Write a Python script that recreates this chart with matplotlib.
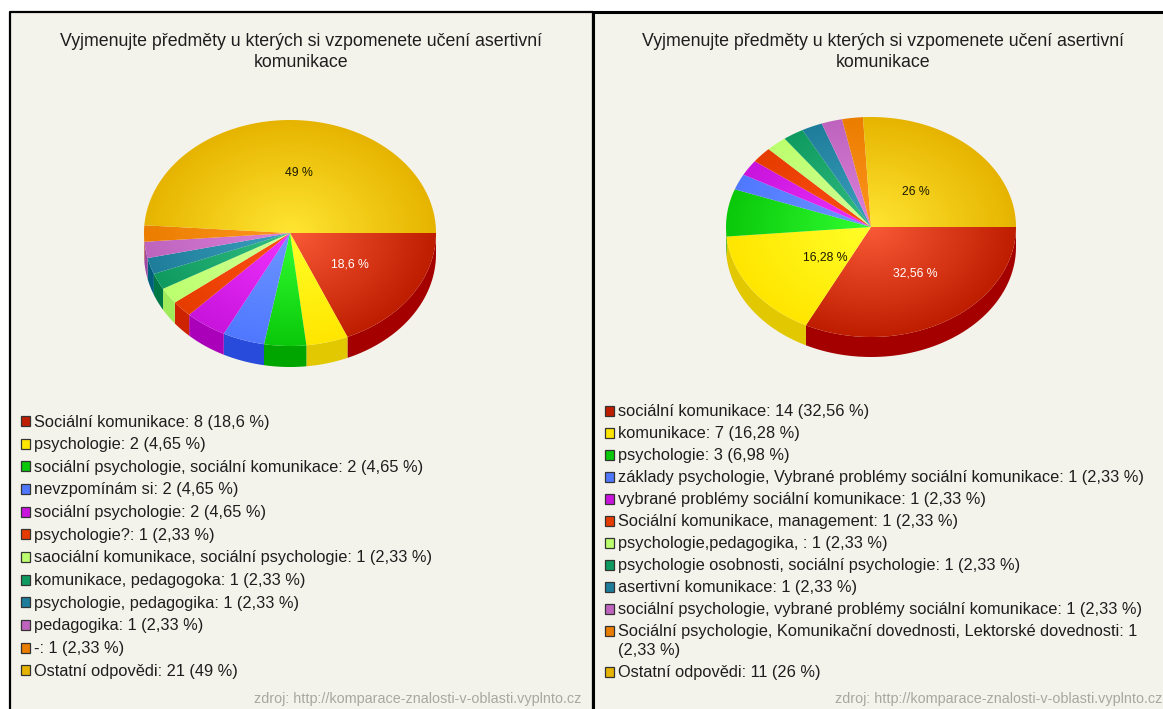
import numpy as np
import matplotlib
matplotlib.use("Agg")
import matplotlib.pyplot as plt
from matplotlib.patches import Polygon, Rectangle

plt.rcParams['font.family'] = ['Liberation Sans', 'DejaVu Sans']

TITLE = "Vyjmenujte předměty u kterých si vzpomenete učení asertivní\nkomunikace"
SOURCE = "zdroj: http://komparace-znalosti-v-oblasti.vyplnto.cz"

left_labels = ["Sociální komunikace", "psychologie", "sociální psychologie, sociální komunikace",
               "nevzpomínám si", "sociální psychologie", "psychologie?",
               "saociální komunikace, sociální psychologie", "komunikace, pedagogoka",
               "psychologie, pedagogika", "pedagogika", "-", "Ostatní odpovědi"]
left_counts = [8, 2, 2, 2, 2, 1, 1, 1, 1, 1, 1, 21]
left_pcts = ["18,6", "4,65", "4,65", "4,65", "4,65", "2,33", "2,33", "2,33", "2,33", "2,33", "2,33", "49"]

right_labels = ["sociální komunikace", "komunikace", "psychologie",
                "základy psychologie, Vybrané problémy sociální komunikace",
                "vybrané problémy sociální komunikace", "Sociální komunikace, management",
                "psychologie,pedagogika, ", "psychologie osobnosti, sociální psychologie",
                "asertivní komunikace", "sociální psychologie, vybrané problémy sociální komunikace",
                "Sociální psychologie, Komunikační dovednosti, Lektorské dovednosti", "Ostatní odpovědi"]
right_counts = [14, 7, 3, 1, 1, 1, 1, 1, 1, 1, 1, 11]
right_pcts = ["32,56", "16,28", "6,98", "2,33", "2,33", "2,33", "2,33", "2,33", "2,33", "2,33", "2,33", "26"]

rim = ['#bf1d00', '#ffe600', '#0ac80a', '#4f78ff', '#c814dc', '#e63c00', '#bcff6e',
       '#0f9b5f', '#1e7d9b', '#be64be', '#eb7d00', '#e6b400']
hub = ['#fa5a37', '#ffff28', '#32ff32', '#6e96ff', '#f032ff', '#ff5014', '#d2ff96',
       '#32be82', '#3ca0be', '#dc82dc', '#ff9620', '#ffe632']
side = ['#a50000', '#e1c800', '#00a500', '#284bdc', '#aa00b9', '#cd2300', '#a0eb5a',
        '#007846', '#005f7d', '#a046a5', '#d26400', '#c89600']

W, H = 1163, 709
BG = '#f4f3eb'
fig = plt.figure(figsize=(W / 100, H / 100), dpi=100, facecolor='white')
ax = fig.add_axes([0, 0, 1, 1])
ax.set_xlim(0, W)
ax.set_ylim(H, 0)
ax.axis('off')


def hex2rgb(c):
    return np.array(matplotlib.colors.to_rgb(c))


def draw_pie(cx, cy, rx, ry, depth, pcts, nudges, show):
    vals = np.array([float(p.replace(',', '.')) for p in pcts])
    edges = np.concatenate([[0], np.cumsum(vals) / vals.sum() * 2 * np.pi])
    # side wall, visible on the front half only
    for i in range(len(vals)):
        a0, a1 = edges[i], min(edges[i + 1], np.pi)
        if a0 >= np.pi:
            continue
        t = np.linspace(a0, a1, 80)
        x, y = cx + rx * np.cos(t), cy + ry * np.sin(t)
        pts = np.r_[np.c_[x, y], np.c_[x[::-1], y[::-1] + depth]]
        ax.add_patch(Polygon(pts, closed=True, fc=side[i], ec='none', zorder=3))
    # top face with a radial shade in each slice
    n = 400
    gx, gy = np.meshgrid(np.linspace(-1, 1, n), np.linspace(-1, 1, n))
    r = np.clip(np.hypot(gx, gy), 0, 1)[..., None]
    for i in range(len(vals)):
        t = np.linspace(edges[i], edges[i + 1], 120)
        pts = np.r_[[[cx, cy]], np.c_[cx + rx * np.cos(t), cy + ry * np.sin(t)]]
        poly = Polygon(pts, closed=True, fc='none', ec='none', transform=ax.transData)
        ax.add_patch(poly)
        img = hex2rgb(hub[i]) * (1 - r) + hex2rgb(rim[i]) * r
        im = ax.imshow(img, extent=(cx - rx, cx + rx, cy + ry, cy - ry), aspect='auto',
                       interpolation='bilinear', zorder=4)
        im.set_clip_path(poly)
        if i in show:
            mid = (edges[i] + edges[i + 1]) / 2
            dx, dy = nudges[show.index(i)]
            col = 'white' if i == 0 else '#1a1a00'
            ax.text(cx + 0.5 * rx * np.cos(mid) + dx, cy + 0.5 * ry * np.sin(mid) + dy,
                    f"{pcts[i]} %", ha='center', va='center', fontsize=8.8, color=col, zorder=5)
    ax.set_xlim(0, W)
    ax.set_ylim(H, 0)


def draw_legend(x, rows_y, labels, counts, pcts, wrap=None):
    for i, (lab, c, p) in enumerate(zip(labels, counts, pcts)):
        y = rows_y[i]
        ax.add_patch(Rectangle((x, y - 5.5), 9, 10, fc=rim[i], ec='#333333', lw=0.9, zorder=5))
        txt = f"{lab}: {c} ({p} %)"
        ty = y + 0.5
        if wrap is not None and i == wrap:
            txt = f"{lab}: {c}\n({p} %)"
            ty = y + 10
        ax.text(x + 13, ty, txt, ha='left', va='center', fontsize=11.75, color='#1e1e1e',
                linespacing=1.26, zorder=5)


# panels
ax.add_patch(Rectangle((10, 12), 582, H, fc=BG, ec='none', zorder=1))
ax.add_patch(Rectangle((593, 12), W - 593, H, fc=BG, ec='none', zorder=1))
ax.plot([10, 10, 593, 593], [H, 12, 12, H], color='black', lw=1.6, zorder=2)
ax.plot([593, 593, W], [H, 12, 12], color='black', lw=2.2, zorder=2)

# titles
for cx in (301, 883):
    ax.text(cx, 52, TITLE, ha='center', va='center', fontsize=12.8, color='#1e1e1e',
            linespacing=1.26, zorder=5)

draw_pie(290, 233, 146, 113, 21, left_pcts, [(-1, 0), (6, -4)], [0, 11])
draw_pie(871, 227, 145, 110, 20, right_pcts, [(6, 0), (14, 0), (-5, 5)], [0, 1, 11])

rows_left = [421.5 + 22.65 * i for i in range(12)]
rows_right = [411 + 22 * i for i in range(11)] + [672]
draw_legend(21, rows_left, left_labels, left_counts, left_pcts)
draw_legend(605, rows_right, right_labels, right_counts, right_pcts, wrap=10)

ax.text(581, 699, SOURCE, ha='right', va='center', fontsize=10.35, color='#a8a8a0', zorder=5)
ax.text(1162, 699, SOURCE, ha='right', va='center', fontsize=10.35, color='#a8a8a0', zorder=5)

fig.savefig('out.png', dpi=100, facecolor='white')
